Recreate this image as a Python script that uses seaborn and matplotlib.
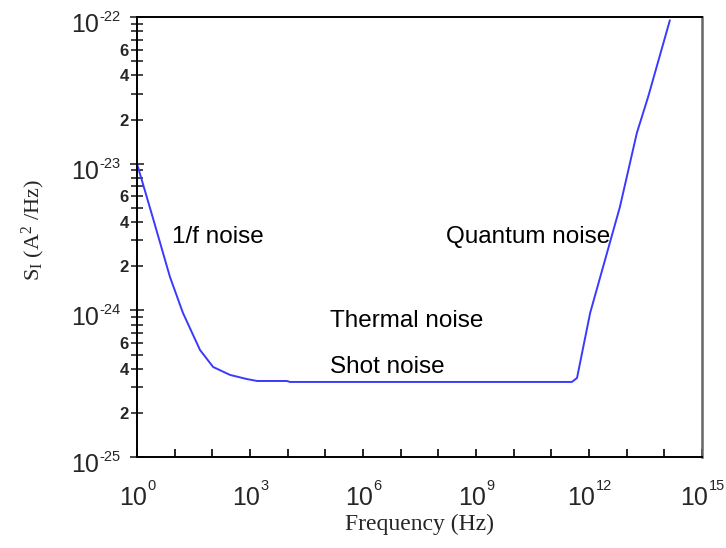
import numpy as np
import pandas as pd
import matplotlib
matplotlib.use("Agg")
import matplotlib.pyplot as plt
import matplotlib.ticker as mticker
import seaborn as sns

# Data (frequency in Hz, S_I in A^2/Hz)
freq = [1e0, 2.6e0, 7.5e0, 1.66e1, 4.7e1, 1.05e2, 2.95e2, 8.3e2, 1.55e3, 9.5e3,
        1.15e4, 3.5e11, 4.8e11, 1.07e12, 6.6e12, 1.86e13, 3.7e13, 1.4e14]
psd = [1.0e-23, 4.33e-24, 1.69e-24, 9.6e-25, 5.37e-25, 4.11e-25, 3.63e-25, 3.4e-25,
       3.3e-25, 3.3e-25, 3.25e-25, 3.25e-25, 3.46e-25, 9.6e-25, 5.07e-24, 1.62e-23,
       2.85e-23, 9.5e-23]

annot_text = ["1/f noise", "Quantum noise", "Thermal noise", "Shot noise"]
annot_x = [8.5e0, 1.6e8, 1.33e5, 1.33e5]
annot_y = [2.88e-24, 2.88e-24, 7.69e-25, 3.74e-25]

x_major_exp = ["0", "3", "6", "9", "12", "15"]
y_major_exp = ["-25", "-24", "-23", "-22"]
y_minor_labels = ["", "2", "", "4", "", "6", "", "", ""]  # for mantissas 1..9

sns.set_style("ticks")
plt.rcParams["font.family"] = ["Liberation Sans", "DejaVu Sans"]
plt.rcParams["mathtext.default"] = "regular"
plt.rcParams["axes.unicode_minus"] = False

df = pd.DataFrame({"freq": freq, "psd": psd})

fig = plt.figure(figsize=(7.26, 5.48), dpi=100)
ax = fig.add_axes([0.1887, 0.166, 0.7783, 0.803])
sns.lineplot(data=df, x="freq", y="psd", ax=ax, color="#3a3aff", linewidth=1.4)
ax.set_xscale("log")
ax.set_yscale("log")
ax.set_xlim(1e0, 1e15)
ax.set_ylim(1e-25, 1e-22)

# ---- x ticks: every decade, labels (drawn below) every 3 decades
ax.xaxis.set_major_locator(mticker.FixedLocator([10.0**k for k in range(0, 16)]))
ax.xaxis.set_major_formatter(mticker.NullFormatter())
ax.xaxis.set_minor_locator(mticker.NullLocator())
ax.tick_params(axis="x", which="both", direction="in", length=5.5, width=1.2, colors="black")

base_w = 28.0   # px width of "10"
exp_digit_w = 7.7
for e in x_major_exp:
    xv = 10.0 ** int(e)
    total = base_w + exp_digit_w * len(e)
    left = -total / 2
    ax.annotate("10", xy=(xv, 0), xycoords=ax.get_xaxis_transform(),
                xytext=(left, -48), textcoords="offset pixels",
                ha="left", va="baseline", fontsize=18, annotation_clip=False)
    ax.annotate(e, xy=(xv, 0), xycoords=ax.get_xaxis_transform(),
                xytext=(left + base_w + 0.5, -33), textcoords="offset pixels",
                ha="left", va="baseline", fontsize=10.5, annotation_clip=False)

# ---- y ticks
ax.yaxis.set_major_locator(mticker.FixedLocator([10.0**int(e) for e in y_major_exp]))
ax.yaxis.set_major_formatter(mticker.NullFormatter())
minor_pos, minor_lab = [], []
for e in y_major_exp[:-1]:
    for m in range(2, 10):
        minor_pos.append(m * 10.0**int(e))
        minor_lab.append(y_minor_labels[m - 1])
ax.yaxis.set_minor_locator(mticker.FixedLocator(minor_pos))
ax.yaxis.set_minor_formatter(mticker.FixedFormatter(minor_lab))
ax.tick_params(axis="y", which="major", direction="inout", length=10, width=1.2)
ax.tick_params(axis="y", which="minor", direction="inout", length=8, width=1.2,
               labelsize=12, pad=2)
for t in ax.yaxis.get_minorticklabels():
    t.set_fontweight("bold")

for e in y_major_exp:
    yv = 10.0 ** int(e)
    ax.annotate("10", xy=(0, yv), xycoords=ax.get_yaxis_transform(),
                xytext=(-38, -15), textcoords="offset pixels",
                ha="right", va="baseline", fontsize=18, annotation_clip=False)
    ax.annotate(e, xy=(0, yv), xycoords=ax.get_yaxis_transform(),
                xytext=(-37.5, -4), textcoords="offset pixels",
                ha="left", va="baseline", fontsize=10.5, annotation_clip=False)

for side in ["left", "bottom", "top"]:
    ax.spines[side].set_color("black")
    ax.spines[side].set_linewidth(1.4)
ax.spines["right"].set_color("#666666")
ax.spines["right"].set_linewidth(1.8)
ax.spines["top"].set_visible(True)
ax.spines["right"].set_visible(True)

for txt, xv, yv in zip(annot_text, annot_x, annot_y):
    ax.text(xv, yv, txt, fontsize=17.5, ha="left", va="baseline", color="black")

ax.set_xlabel("Frequency (Hz)", family=["Liberation Serif"], fontsize=17)
ax.xaxis.label.set_va("center")
ax.xaxis.set_label_coords(0.5, -(524 - 457) / 440)
ax.set_ylabel("$S_I$ ($A^2$ /Hz)", family=["Liberation Serif"], fontsize=16)
ax.yaxis.label.set_va("center")
ax.yaxis.set_label_coords((33 - 137) / 565, 0.5 - (230 - 237) / 440)

fig.savefig("out.png", dpi=100)
